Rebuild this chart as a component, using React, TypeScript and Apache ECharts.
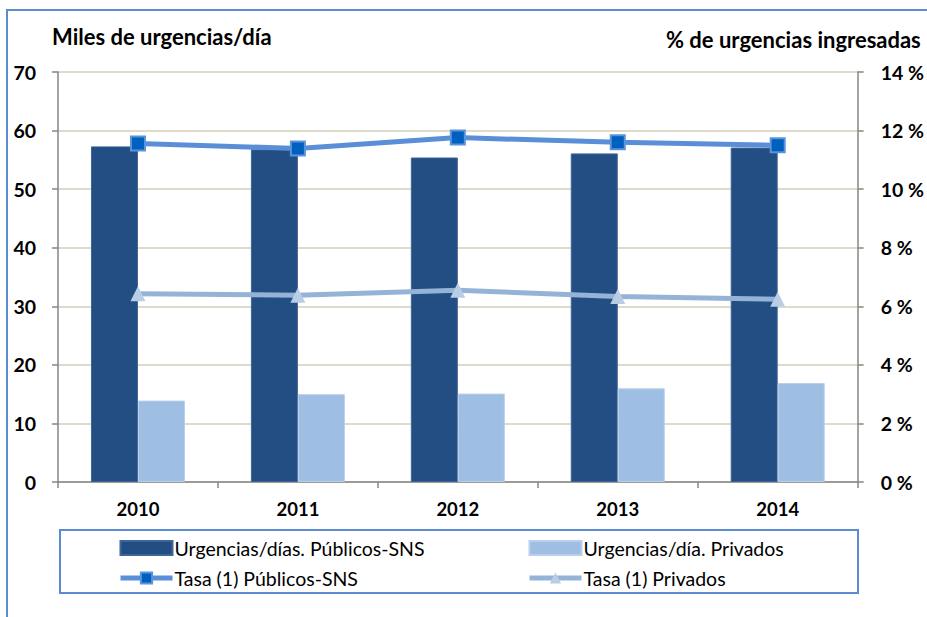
import React, { useEffect, useRef } from "react";
import * as echarts from "echarts";

const years = ["2010", "2011", "2012", "2013", "2014"];
const urgPublicos = [57.3, 56.8, 55.4, 56.1, 57.1];
const urgPrivados = [13.9, 15.0, 15.1, 16.0, 16.9];
const tasaPublicos = [11.56, 11.39, 11.76, 11.6, 11.5];
const tasaPrivados = [6.43, 6.38, 6.55, 6.33, 6.24];

const FONT = "Lato, 'Open Sans', sans-serif";

export default function App() {
  const ref = useRef<HTMLDivElement>(null);
  useEffect(() => {
    if (!ref.current) return;
    const chart = echarts.init(ref.current, undefined, { renderer: "svg" });
    const legendText = { fontSize: 19.5, color: "#000", fontFamily: FONT, padding: [0, 0, 0, -3] };
    chart.setOption({
      animation: false,
      backgroundColor: "#ffffff",
      textStyle: { fontFamily: FONT },
      grid: { left: 58, right: 67, top: 72, bottom: 135 },
      graphic: [
        {
          type: "rect",
          shape: { x: 7, y: 10, width: 1000, height: 1000 },
          style: { fill: "none", stroke: "#5B8BD0", lineWidth: 2 },
          silent: true,
          z: -10,
        },
        {
          type: "rect",
          shape: { x: 60, y: 530, width: 798, height: 63 },
          style: { fill: "none", stroke: "#5B8BD0", lineWidth: 2 },
          silent: true,
        },
        {
          type: "text",
          left: 52,
          top: 25,
          style: { text: "Miles de urgencias/día", fontSize: 22, fontWeight: "bold", fill: "#000", fontFamily: FONT },
        },
        {
          type: "text",
          left: 666,
          top: 28,
          style: { text: "% de urgencias ingresadas", fontSize: 22, fontWeight: "bold", fill: "#000", fontFamily: FONT },
        },
      ],
      legend: [
        {
          left: 118,
          top: 538,
          padding: 0,
          orient: "vertical",
          itemWidth: 52,
          itemHeight: 14,
          itemGap: 10,
          textStyle: legendText,
          data: [
            { name: "Urgencias/días. Públicos-SNS", icon: "rect" },
            { name: "Tasa (1) Públicos-SNS", lineStyle: { width: 5, color: "#5A8FD8" } },
          ],
        },
        {
          left: 527,
          top: 538,
          padding: 0,
          orient: "vertical",
          itemWidth: 52,
          itemHeight: 14,
          itemGap: 10,
          textStyle: legendText,
          data: [
            { name: "Urgencias/día. Privados", icon: "rect" },
            { name: "Tasa (1) Privados", lineStyle: { width: 5, color: "#95B3D7" } },
          ],
        },
      ],
      xAxis: {
        type: "category",
        data: years,
        boundaryGap: true,
        axisLine: { lineStyle: { color: "#868686", width: 1.5 } },
        axisTick: { show: true, length: 6, lineStyle: { color: "#868686", width: 1.5 } },
        axisLabel: { fontSize: 18.5, fontWeight: "bold", color: "#000", margin: 17, fontFamily: FONT },
      },
      yAxis: [
        {
          type: "value",
          min: 0,
          max: 70,
          interval: 10,
          axisLine: { show: true, lineStyle: { color: "#868686", width: 1.5 } },
          axisTick: { show: true, length: 6, lineStyle: { color: "#868686", width: 1.5 } },
          axisLabel: { fontSize: 19.5, fontWeight: "bold", color: "#000", margin: 22, fontFamily: FONT },
          splitLine: { show: true, lineStyle: { color: "#D3CFBD", width: 1.5 } },
        },
        {
          type: "value",
          min: 0,
          max: 14,
          interval: 2,
          position: "right",
          axisLine: { show: true, lineStyle: { color: "#868686", width: 1.5 } },
          axisTick: { show: true, length: 6, lineStyle: { color: "#868686", width: 1.5 } },
          axisLabel: {
            fontSize: 19.5,
            fontWeight: "bold",
            color: "#000",
            margin: 23,
            fontFamily: FONT,
            formatter: (v: number) => `${v} %`,
          },
          splitLine: { show: false },
        },
      ],
      series: [
        {
          name: "Urgencias/días. Públicos-SNS",
          type: "bar",
          data: urgPublicos,
          barWidth: 47,
          barGap: "0%",
          itemStyle: { color: "#234E84", borderColor: "#3E6597", borderWidth: 1 },
        },
        {
          name: "Urgencias/día. Privados",
          type: "bar",
          data: urgPrivados,
          barWidth: 47,
          barGap: "0%",
          itemStyle: { color: "#9EBEE3", borderColor: "#B8D0EC", borderWidth: 1 },
        },
        {
          name: "Tasa (1) Públicos-SNS",
          type: "line",
          yAxisIndex: 1,
          data: tasaPublicos,
          symbol: "rect",
          symbolSize: 14,
          lineStyle: { color: "#5A8FD8", width: 5 },
          itemStyle: { color: "#0060C0", borderColor: "#5A94DC", borderWidth: 2 },
          z: 5,
        },
        {
          name: "Tasa (1) Privados",
          type: "line",
          yAxisIndex: 1,
          data: tasaPrivados,
          symbol: "triangle",
          symbolSize: 15,
          lineStyle: { color: "#95B3D7", width: 5 },
          itemStyle: { color: "#B9CDE5", borderColor: "#B9CDE5", borderWidth: 0 },
          z: 5,
        },
      ],
    });
    return () => chart.dispose();
  }, []);
  return (
    <div
      ref={ref}
      style={{ position: "absolute", left: 0, top: 0, width: 927, height: 617 }}
    />
  );
}
